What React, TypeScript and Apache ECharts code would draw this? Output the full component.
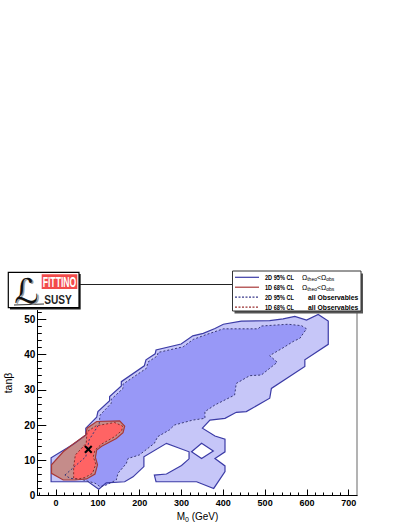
import React, { useEffect, useRef } from 'react';
import * as echarts from 'echarts';

// ---- axis ticks ----
const xMajorTicks = [0, 100, 200, 300, 400, 500, 600, 700];
const xMinorTicks = [-40, -20, 20, 40, 60, 80, 120, 140, 160, 180, 220, 240, 260, 280, 320, 340, 360, 380, 420, 440, 460, 480, 520, 540, 560, 580, 620, 640, 660, 680];
const yMajorTicks = [0, 10, 20, 30, 40, 50];
const yMinorTicks = [2, 4, 6, 8, 12, 14, 16, 18, 22, 24, 26, 28, 32, 34, 36, 38, 42, 44, 46, 48, 52];

// ---- contours (M0 [GeV], tan beta) ----
const contour2D95Omega = [[-12, 3.9], [-12, 10.7], [42, 14.6], [71, 17.2], [71, 19.1], [97, 22.2], [100, 23.8], [128, 26.9], [128, 28.1], [156, 31.1], [156, 32.3], [211, 36.8], [215, 38.5], [237, 40.2], [239, 41.3], [299, 43.0], [327, 45.3], [352, 46.0], [380, 47.4], [400, 48.6], [443, 49.5], [511, 49.6], [543, 50.1], [571, 50.8], [599, 49.8], [627, 51.4], [651, 49.5], [651, 42.9], [595, 38.5], [595, 36.6], [515, 30.4], [511, 27.6], [455, 23.8], [431, 23.6], [404, 21.9], [368, 21.4], [350, 19.1], [380, 16.9], [404, 16.0], [404, 12.4], [380, 10.5], [404, 8.4], [404, 6.8], [377, 2.0], [336, 3.9], [239, 3.9], [235, 5.8], [264, 6.1], [300, 8.5], [318, 10.4], [318, 12.4], [264, 14.8], [210, 11.0], [210, 8.2], [184, 5.3], [164, 3.9], [120, 3.6], [102, 1.8], [77, 3.9]];
const hole2D95Omega = [[324, 12.4], [348, 14.8], [376, 12.6], [348, 10.5]];
const contour2D95All = [[21, 5.8], [71, 11.0], [79, 15.8], [103, 20.3], [105, 22.8], [132, 26.2], [132, 27.3], [160, 30.4], [160, 31.6], [216, 36.1], [220, 37.9], [242, 39.6], [244, 40.6], [304, 42.2], [328, 44.3], [360, 45.7], [400, 47.3], [483, 47.3], [491, 48.1], [555, 48.6], [587, 48.2], [599, 47.3], [583, 44.6], [567, 43.7], [547, 42.2], [511, 39.7], [529, 37.8], [491, 34.2], [463, 34.0], [431, 31.8], [427, 28.5], [380, 25.7], [356, 23.8], [356, 21.9], [327, 21.4], [283, 20.0], [271, 18.6], [243, 16.7], [235, 14.8], [199, 11.5], [172, 10.5], [168, 9.1], [148, 6.3], [144, 4.4], [120, 3.0], [105, 2.5], [93, 3.5], [65, 4.4], [33, 4.9]];
const contour1D68Omega = [[-11, 8.7], [-11, 6.3], [17, 4.4], [45, 4.4], [73, 4.7], [93, 6.1], [99, 8.7], [94, 10.8], [97, 12.9], [109, 14.0], [144, 16.2], [160, 17.8], [164, 19.7], [152, 21.2], [97, 21.0], [74, 19.1], [71, 17.2], [41, 14.6], [17, 12.4]];
const contour1D68All = [[42, 4.9], [42, 8.2], [46, 11.5], [72, 14.8], [74, 18.1], [96, 19.8], [140, 20.7], [159, 19.7], [157, 18.4], [140, 16.7], [109, 14.6], [93, 12.9], [89, 11.0], [95, 8.9], [87, 6.3], [69, 5.1], [53, 4.7]];
const bestFit = [77, 13.1];

const BLUE_LINE = '#3b3ba6';
const RED_LINE = '#a83838';
const FONT = 'Liberation Sans, Arial, sans-serif';

function polySeries(points: number[][], style: any, z: number) {
  return {
    type: 'custom',
    coordinateSystem: 'cartesian2d',
    xAxisIndex: 0,
    yAxisIndex: 0,
    silent: true,
    z,
    data: [points[0]],
    renderItem: (_p: any, api: any) => ({
      type: 'polygon',
      shape: { points: points.map((pt) => api.coord(pt)) },
      style,
    }),
  };
}

function legendRow(y: number, color: string, dashed: boolean, label: string, rich: boolean, second: string) {
  const els: any[] = [
    {
      type: 'line',
      shape: { x1: 235, y1: y, x2: 259, y2: y },
      style: { stroke: color, lineWidth: 1.2, lineDash: dashed ? [2, 1.5] : null },
    },
    {
      type: 'text',
      x: 265,
      y,
      scaleX: 0.85,
      style: { text: label, fill: '#000', fontSize: 6.6, fontWeight: 'bold', fontFamily: FONT, verticalAlign: 'middle', align: 'left' },
    },
  ];
  if (rich) {
    els.push({
      type: 'text',
      x: 302,
      y,
      style: {
        text: '{o|Ω}{s|theo}{o|<Ω}{s|obs}',
        verticalAlign: 'middle',
        align: 'left',
        rich: {
          o: { fontSize: 7, fontFamily: FONT, fill: '#000', lineHeight: 9, verticalAlign: 'middle' },
          s: { fontSize: 5, fontFamily: FONT, fill: '#000', lineHeight: 6, verticalAlign: 'bottom' },
        },
      },
    });
  } else {
    els.push({
      type: 'text',
      x: 308,
      y,
      style: { text: second, fill: '#000', fontSize: 6.8, fontWeight: 'bold', fontFamily: FONT, verticalAlign: 'middle', align: 'left' },
    });
  }
  return els;
}

export default function App() {
  const ref = useRef<HTMLDivElement>(null);
  useEffect(() => {
    if (!ref.current) return;
    const chart = echarts.init(ref.current, null, { renderer: 'svg' });
    const commonX = { type: 'value', min: -45, max: 720, position: 'bottom', splitLine: { show: false } };
    const commonY = { type: 'value', min: 0, max: 52.5, splitLine: { show: false } };
    const option: any = {
      animation: false,
      backgroundColor: '#fff',
      grid: { left: 37.3, right: 49.9, top: 310.5, bottom: 31.5, containLabel: false },
      xAxis: [
        {
          ...commonX,
          axisLine: { show: true, onZero: false, lineStyle: { color: '#000', width: 1 } },
          axisTick: { show: true, inside: true, length: 6, customValues: xMajorTicks, lineStyle: { color: '#000', width: 1 } },
          axisLabel: { customValues: xMajorTicks, fontSize: 9, fontWeight: 'bold', color: '#000', fontFamily: FONT, margin: 3 },
        },
        {
          ...commonX,
          axisLine: { show: false, onZero: false },
          axisTick: { show: true, inside: true, length: 3, customValues: xMinorTicks, lineStyle: { color: '#000', width: 1 } },
          axisLabel: { show: false },
        },
      ],
      yAxis: [
        {
          ...commonY,
          position: 'left',
          axisLine: { show: true, onZero: false, lineStyle: { color: '#000', width: 1 } },
          axisTick: { show: true, inside: true, length: 9, customValues: yMajorTicks, lineStyle: { color: '#000', width: 1 } },
          axisLabel: { customValues: yMajorTicks, fontSize: 10, fontWeight: 'bold', color: '#000', fontFamily: FONT, margin: 2 },
        },
        {
          ...commonY,
          position: 'left',
          axisLine: { show: false, onZero: false },
          axisTick: { show: true, inside: true, length: 4.5, customValues: yMinorTicks, lineStyle: { color: '#000', width: 1 } },
          axisLabel: { show: false },
        },
        {
          ...commonY,
          position: 'right',
          axisLine: { show: true, onZero: false, lineStyle: { color: '#9a9a9a', width: 1.5 } },
          axisTick: { show: false },
          axisLabel: { show: false },
        },
      ],
      series: [
        polySeries(contour2D95Omega, { fill: '#c6c6f8' }, 1),
        polySeries(hole2D95Omega, { fill: '#ffffff' }, 2),
        polySeries(contour2D95All, { fill: '#9898f7' }, 3),
        polySeries(contour1D68Omega, { fill: '#c58c8a' }, 4),
        polySeries(contour1D68All, { fill: '#ff6464' }, 5),
        polySeries(contour2D95Omega, { fill: 'none', stroke: BLUE_LINE, lineWidth: 1.2 }, 6),
        polySeries(hole2D95Omega, { fill: 'none', stroke: BLUE_LINE, lineWidth: 1.2 }, 6),
        polySeries(contour2D95All, { fill: 'none', stroke: '#3a3a78', lineWidth: 1, lineDash: [2, 2] }, 7),
        polySeries(contour1D68Omega, { fill: 'none', stroke: RED_LINE, lineWidth: 1.2 }, 8),
        polySeries(contour1D68All, { fill: 'none', stroke: '#8a2a2a', lineWidth: 1, lineDash: [2, 2] }, 9),
        {
          type: 'custom',
          coordinateSystem: 'cartesian2d',
          silent: true,
          z: 10,
          data: [bestFit],
          renderItem: (_p: any, api: any) => {
            const c = api.coord([api.value(0), api.value(1)]);
            const h = 3.4;
            const st = { stroke: '#000', lineWidth: 2 };
            return {
              type: 'group',
              children: [
                { type: 'line', shape: { x1: c[0] - h, y1: c[1] - h, x2: c[0] + h, y2: c[1] + h }, style: st },
                { type: 'line', shape: { x1: c[0] - h, y1: c[1] + h, x2: c[0] + h, y2: c[1] - h }, style: st },
              ],
            };
          },
        },
      ],
      graphic: {
        elements: [
          // connecting line logo -> legend
          { type: 'line', shape: { x1: 79, y1: 284.5, x2: 232, y2: 284.5 }, style: { stroke: '#222', lineWidth: 1 }, z: 1 },
          // logo
          { type: 'rect', shape: { x: 10, y: 274, width: 70.7, height: 35.4 }, style: { fill: '#222' }, z: 2 },
          { type: 'rect', shape: { x: 8.3, y: 272.3, width: 70.7, height: 35.4 }, style: { fill: '#fff', stroke: '#000', lineWidth: 1.2 }, z: 3 },
          { type: 'rect', shape: { x: 41.7, y: 274.3, width: 35.6, height: 14.7 }, style: { fill: '#f24b4b' }, z: 4 },
          { type: 'text', x: 59.5, y: 282, scaleX: 0.62, style: { text: 'FITTINO', fill: '#fff', fontSize: 14, fontWeight: 'bold', fontFamily: FONT, align: 'center', verticalAlign: 'middle' }, z: 5 },
          { type: 'text', x: 58, y: 299, scaleX: 0.78, style: { text: 'SUSY', fill: '#222', fontSize: 13, fontWeight: 'bold', fontFamily: FONT, align: 'center', verticalAlign: 'middle' }, z: 5 },
          { type: 'line', shape: { x1: 14, y1: 305, x2: 44, y2: 304 }, style: { stroke: '#333', lineWidth: 1.2 }, z: 5 },
          { type: 'text', x: 28, y: 291.5, style: { text: 'ℒ', fill: '#999', fontSize: 34, fontFamily: 'DejaVu Serif, DejaVu Sans, serif', align: 'center', verticalAlign: 'middle' }, z: 5 },
          { type: 'text', x: 26.5, y: 290.5, style: { text: 'ℒ', fill: '#111', fontSize: 34, fontFamily: 'DejaVu Serif, DejaVu Sans, serif', align: 'center', verticalAlign: 'middle' }, z: 6 },
          // legend box
          { type: 'rect', shape: { x: 234.5, y: 273.5, width: 128.5, height: 40 }, style: { fill: '#555' }, z: 2 },
          { type: 'rect', shape: { x: 232.5, y: 271, width: 128.5, height: 40 }, style: { fill: '#fff', stroke: '#333', lineWidth: 1 }, z: 3 },
          ...legendRow(277.3, BLUE_LINE, false, '2D 95% CL', true, '').map((e) => ({ ...e, z: 5 })),
          ...legendRow(287.2, RED_LINE, false, '1D 68% CL', true, '').map((e) => ({ ...e, z: 5 })),
          ...legendRow(297.2, '#3a3a8a', true, '2D 95% CL', false, 'all Observables').map((e) => ({ ...e, z: 5 })),
          ...legendRow(307.1, '#9a3030', true, '1D 68% CL', false, 'all Observables').map((e) => ({ ...e, z: 5 })),
          // axis titles
          {
            type: 'text',
            x: 197.5,
            y: 516,
            style: {
              text: '{a|M}{b|0}{a| (GeV)}',
              align: 'center',
              verticalAlign: 'middle',
              rich: {
                a: { fontSize: 10, fontFamily: FONT, fill: '#000', lineHeight: 13, verticalAlign: 'middle' },
                b: { fontSize: 7, fontFamily: FONT, fill: '#000', lineHeight: 8, verticalAlign: 'bottom' },
              },
            },
          },
          {
            type: 'text',
            x: 8,
            y: 383,
            rotation: Math.PI / 2,
            style: { text: 'tanβ', fill: '#000', fontSize: 10.5, fontFamily: FONT, align: 'center', verticalAlign: 'middle' },
          },
        ],
      },
    };
    chart.setOption(option);
    return () => chart.dispose();
  }, []);
  return <div ref={ref} style={{ position: 'fixed', left: 0, top: 0, width: 407, height: 527 }} />;
}
